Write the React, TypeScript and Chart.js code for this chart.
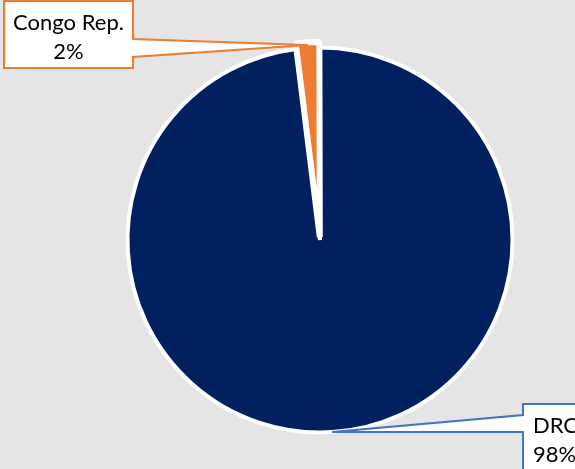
import React, { useEffect, useRef } from "react";
import { Chart, registerables } from "chart.js";

Chart.register(...registerables);

// ---- data ----
const categories = ["DRC", "Congo Rep."];
const shares = [98.0, 2.0];
const percentLabels = ["98%", "2%"];
const sliceColors = ["#002060", "#ED7D31"];
const calloutColors = ["#4472C4", "#ED7D31"];

// ---- callout layout (styles, not data) ----
type Callout = {
  box: [number, number, number, number]; // x1, y1, x2, y2
  side: "left" | "right";
  notch: [number, number]; // y range of pointer base on the side
  align: CanvasTextAlign;
  textX: number;
  baselines: [number, number];
};
const calloutLayout: Callout[] = [
  { box: [523, 404, 620, 500], side: "left", notch: [415, 432], align: "left", textX: 533, baselines: [433, 462] },
  { box: [4, 1, 133, 68], side: "right", notch: [39, 57], align: "center", textX: 68.5, baselines: [30, 59] },
];

const calloutPlugin = {
  id: "callouts",
  afterDatasetsDraw(chart: any) {
    const ctx: CanvasRenderingContext2D = chart.ctx;
    const meta = chart.getDatasetMeta(0);
    meta.data.forEach((arc: any, i: number) => {
      const lay = calloutLayout[i];
      if (!lay) return;
      const p = arc.getProps(["x", "y", "startAngle", "endAngle", "outerRadius"], true);
      const mid = (p.startAngle + p.endAngle) / 2;
      const off = (arc.options.offset || 0) / 4;
      const r = p.outerRadius + off;
      const tipX = p.x + Math.cos(mid) * r;
      const tipY = p.y + Math.sin(mid) * r;
      const [x1, y1, x2, y2] = lay.box;
      ctx.save();
      ctx.beginPath();
      if (lay.side === "right") {
        ctx.moveTo(x1, y1);
        ctx.lineTo(x2, y1);
        ctx.lineTo(x2, lay.notch[0]);
        ctx.lineTo(tipX, tipY);
        ctx.lineTo(x2, lay.notch[1]);
        ctx.lineTo(x2, y2);
        ctx.lineTo(x1, y2);
      } else {
        ctx.moveTo(x1, y1);
        ctx.lineTo(x2, y1);
        ctx.lineTo(x2, y2);
        ctx.lineTo(x1, y2);
        ctx.lineTo(x1, lay.notch[1]);
        ctx.lineTo(tipX, tipY);
        ctx.lineTo(x1, lay.notch[0]);
      }
      ctx.closePath();
      ctx.fillStyle = "#ffffff";
      ctx.fill();
      ctx.lineWidth = 2;
      ctx.lineJoin = "miter";
      ctx.strokeStyle = calloutColors[i];
      ctx.stroke();

      ctx.fillStyle = "#000000";
      ctx.font = "22px Lato";
      ctx.textAlign = lay.align;
      ctx.textBaseline = "alphabetic";
      ctx.fillText(categories[i], lay.textX, lay.baselines[0]);
      ctx.fillText(percentLabels[i], lay.textX, lay.baselines[1]);
      ctx.restore();
    });
  },
};

export default function App() {
  const canvasRef = useRef<HTMLCanvasElement | null>(null);

  useEffect(() => {
    document.body.style.margin = "0";
    document.body.style.background = "#e5e5e5";
    const canvas = canvasRef.current;
    if (!canvas) return;
    const chart = new Chart(canvas, {
      type: "pie",
      data: {
        labels: categories,
        datasets: [
          {
            data: shares,
            backgroundColor: sliceColors,
            borderColor: "#ffffff",
            borderWidth: [4, 6],
            offset: [0, 12],
          },
        ],
      },
      options: {
        responsive: false,
        animation: false,
        radius: 192.5,
        layout: { padding: { left: 127, right: 62, top: 47, bottom: 36 } },
        plugins: {
          legend: { display: false },
          tooltip: { enabled: false },
        },
        events: [],
      } as any,
      plugins: [calloutPlugin],
    });
    return () => chart.destroy();
  }, []);

  return (
    <div style={{ position: "absolute", left: 0, top: 0, width: 575, height: 469, background: "#e5e5e5" }}>
      <canvas ref={canvasRef} width={575} height={469} style={{ display: "block", width: 575, height: 469 }} />
    </div>
  );
}
